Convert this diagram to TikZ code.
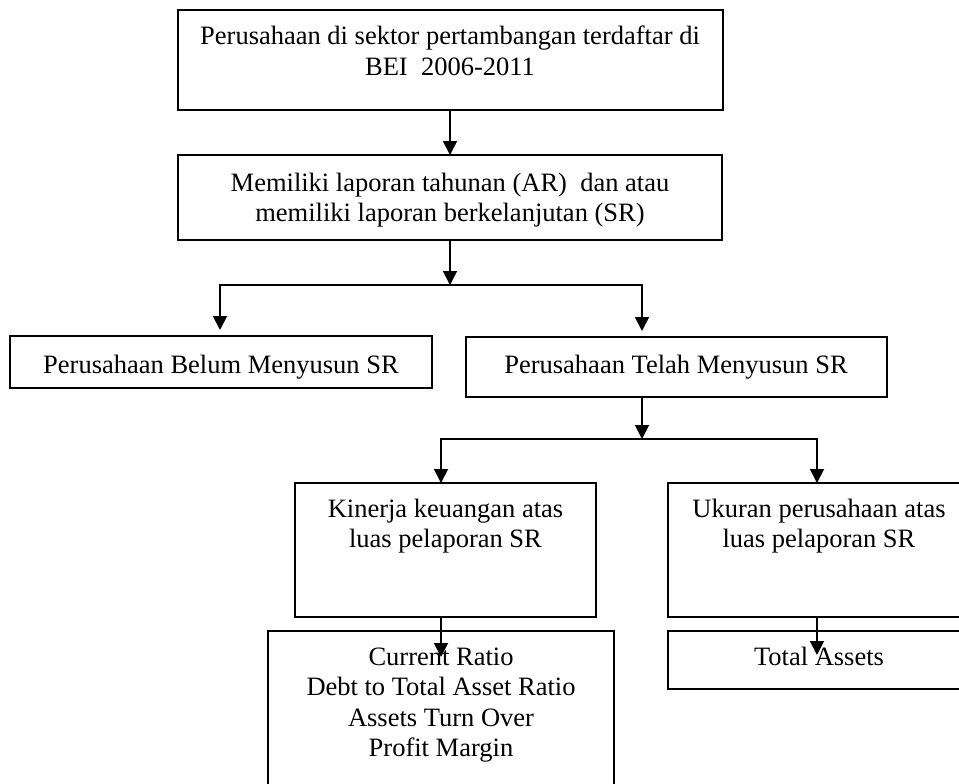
\documentclass[tikz,border=0pt]{standalone}
\usepackage{fontspec}
\setmainfont{Liberation Serif}
\usetikzlibrary{arrows.meta}
\begin{document}
\begin{tikzpicture}[x=1pt,y=-1pt,
  box/.style={draw, line width=1.9pt, inner sep=0pt, outer sep=0pt},
  txt/.style={font=\fontsize{26.5}{30.6}\selectfont, inner sep=0pt, outer sep=0pt, align=center, anchor=north},
  arr/.style={line width=1.9pt, -{Triangle[length=14pt,width=14pt]}}]
\useasboundingbox (0,0) rectangle (959,784);
% boxes
\node[box, minimum width=545pt, minimum height=100pt] (b1) at (450.5,60) {};
\node[box, minimum width=544pt, minimum height=85pt] (b2) at (450,197.5) {};
\node[box, minimum width=422pt, minimum height=52pt] (belum) at (221,362) {};
\node[box, minimum width=421pt, minimum height=60pt] (telah) at (676.5,367) {};
\node[box, minimum width=301pt, minimum height=134pt] (kin) at (445.5,550) {};
\node[box, minimum width=302pt, minimum height=134pt] (ukr) at (819,550) {};
\node[box, minimum width=346pt, minimum height=159pt] (cur) at (441,710.5) {};
\node[box, minimum width=302pt, minimum height=58pt] (tot) at (819,660) {};
% texts
\node[txt] (t1) at (450,23.58) {\strut Perusahaan di sektor pertambangan terdaftar di\\BEI~~2006-2011};
\node[txt] (t2) at (450,169.58) {\strut Memiliki laporan tahunan (AR)~~dan atau\\memiliki laporan berkelanjutan (SR)};
\node[txt] (t3) at (221,351.58) {\strut Perusahaan Belum Menyusun SR};
\node[txt] (t4) at (676,351.58) {\strut Perusahaan Telah Menyusun SR};
\node[txt] (t5) at (445.5,495.58) {\strut Kinerja keuangan atas\\luas pelaporan SR};
\node[txt] (t6) at (819,495.58) {\strut Ukuran perusahaan atas\\luas pelaporan SR};
\node[txt] (t7) at (441,643.58) {\strut Current Ratio\\Debt to Total Asset Ratio\\Assets Turn Over\\Profit Margin};
\node[txt] (t8) at (819,643.58) {\strut Total Assets};
% connectors
\coordinate (j1) at (450,285);
\coordinate (j2) at (642,439);
\draw[arr] (b2.north |- b1.south) -- (b2.north);
\draw[arr] (b2.south) -- (j1);
\draw[arr] (j1) -| ([xshift=-1pt,yshift=6pt]belum.north);
\draw[arr] (j1) -| ([xshift=-34.5pt,yshift=6pt]telah.north);
\draw[arr] ([xshift=-34.5pt]telah.south) -- (j2);
\draw[arr] (j2) -| (cur.north |- kin.north);
\draw[arr] (j2) -| ([xshift=-2pt]ukr.north);
\draw[arr] (kin.south -| cur.north) -- ([yshift=-26pt]cur.north);
\draw[arr] ([xshift=-2pt]ukr.south) -- ([xshift=-2pt,yshift=-24pt]tot.north);
\end{tikzpicture}
\end{document}
